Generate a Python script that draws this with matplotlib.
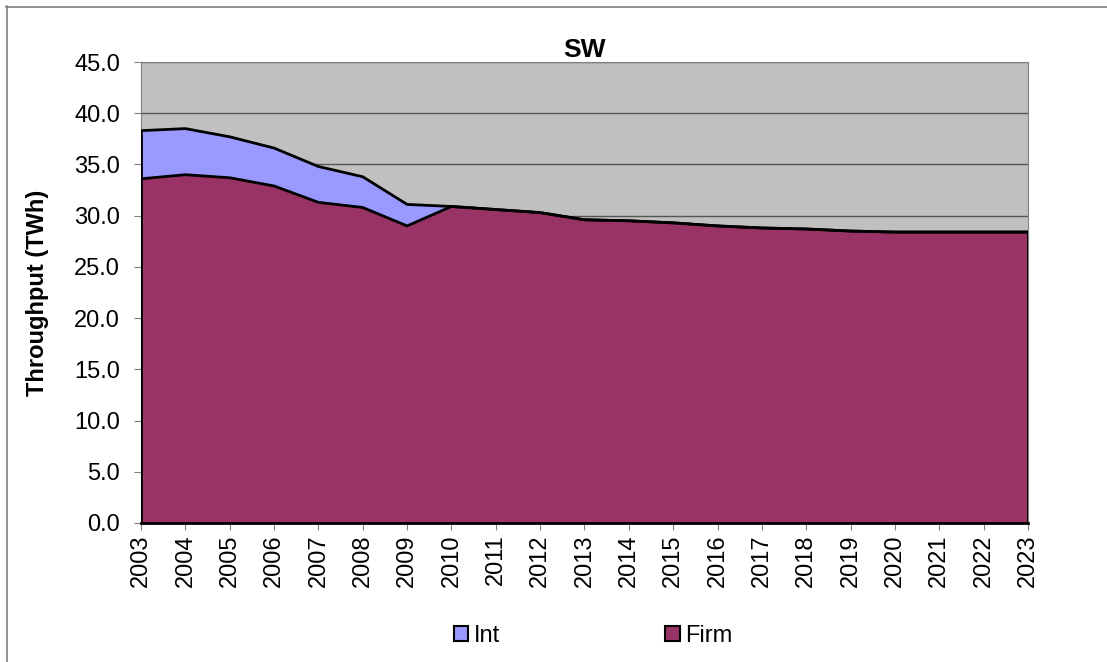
import matplotlib.pyplot as plt
from matplotlib.patches import Patch
from matplotlib.lines import Line2D

plt.rcParams['font.family'] = ['Liberation Sans', 'DejaVu Sans']

years = list(range(2003, 2024))
firm = [33.6, 34.0, 33.7, 32.9, 31.3, 30.8, 29.0, 30.9, 30.6, 30.3, 29.6,
        29.5, 29.3, 29.0, 28.8, 28.7, 28.5, 28.4, 28.4, 28.4, 28.4]
interruptible = [4.7, 4.5, 4.0, 3.7, 3.5, 3.0, 2.1, 0.0, 0.0, 0.0, 0.0,
                 0.0, 0.0, 0.0, 0.0, 0.0, 0.0, 0.0, 0.0, 0.0, 0.0]
yticks = [0, 5, 10, 15, 20, 25, 30, 35, 40, 45]

firm_color = "#993366"
int_color = "#9999FF"

fig = plt.figure(figsize=(11.07, 6.62), dpi=100)
ax = fig.add_axes([0.1274, 0.21, 0.8012, 0.6963])
ax.set_facecolor("#C0C0C0")

total = [f + i for f, i in zip(firm, interruptible)]
ax.fill_between(years, firm, total, facecolor=int_color, edgecolor="none", zorder=2)
ax.fill_between(years, 0, firm, facecolor=firm_color, edgecolor="none", zorder=2)
ax.plot(years, total, color="black", lw=2, zorder=3)
ax.plot(years, firm, color="black", lw=2, zorder=3)
ax.plot([years[-1], years[-1]], [0, total[-1]], color="black", lw=2, zorder=3)
ax.plot([years[0], years[0]], [0, total[0]], color="black", lw=2, zorder=3)
ax.plot([years[0], years[-1]], [0, 0], color="black", lw=2, zorder=3, clip_on=False)

ax.set_xlim(years[0], years[-1])
ax.set_ylim(0, 45)
ax.set_yticks(yticks)
ax.set_yticklabels([f"{v:.1f}" for v in yticks], fontsize=17)
ax.set_xticks(years)
ax.set_xticklabels([str(y) for y in years], rotation=90, fontsize=17)
ax.yaxis.grid(True, color="#555555", lw=1)
ax.set_axisbelow(True)
for s in ["top", "right", "left", "bottom"]:
    ax.spines[s].set_color("#808080")
ax.tick_params(direction="out", length=5, color="#808080")
ax.tick_params(axis="x", pad=3)
ax.tick_params(axis="y", pad=10)

ax.set_title("SW", fontsize=19, fontweight="bold", pad=3)
ax.set_ylabel("Throughput (TWh)", fontsize=17, fontweight="bold", labelpad=18)

handles = [Patch(facecolor=int_color, edgecolor="black", lw=1.5),
           Patch(facecolor=firm_color, edgecolor="black", lw=1.5)]
fig.legend(handles, ["Int", "Firm"], loc="center", ncol=2,
           bbox_to_anchor=(0.536, 0.039), frameon=False, fontsize=17,
           handlelength=0.6, handleheight=0.6, handletextpad=0.25,
           columnspacing=7.0)

# chart frame: only top and left edges are visible
fig.add_artist(Line2D([6 / 1107, 1], [1 - 6.5 / 662, 1 - 6.5 / 662],
                      transform=fig.transFigure, color="#808080", lw=1.2))
fig.add_artist(Line2D([6.5 / 1107, 6.5 / 1107], [0, 1 - 6 / 662],
                      transform=fig.transFigure, color="#808080", lw=1.2))

fig.savefig("out.png", dpi=100)
